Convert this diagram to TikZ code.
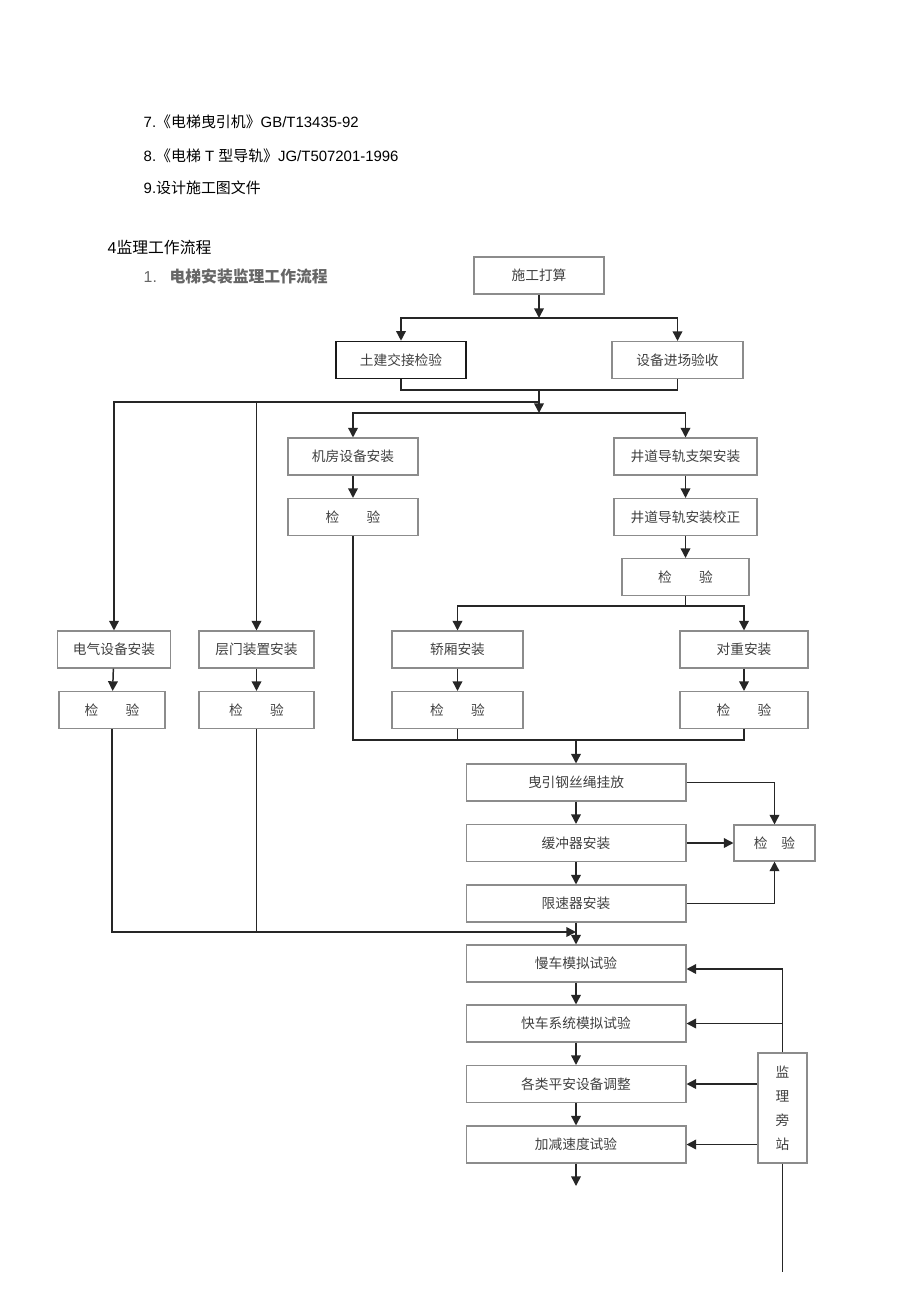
\documentclass[tikz,border=0pt]{standalone}
\usepackage{fontspec}
\setmainfont{Liberation Sans}
\newfontfamily\cjk{Noto Sans CJK SC}
\usetikzlibrary{arrows.meta}

\begin{document}
\begin{tikzpicture}[x=0.02cm, y=-0.02cm, line width=0.85pt,
  box/.style={draw=black!45, line width=0.6pt, minimum height=0.74cm, inner sep=0pt,
    font={\cjk\fontsize{7.8}{9}\selectfont}, text=black!75},
  link/.style={draw=black!85},
  arr/.style={link, -{Triangle[length=5.5pt,width=5.5pt]}}]
  \useasboundingbox (0,0) rectangle (920,1301);

  % heading lines
  \node[anchor=base west, inner sep=0pt, font=\fontsize{8.5}{10}\selectfont] (ref7) at (143,128) {7.{\cjk 《电梯曳引机》}GB/T13435-92};
  \node[anchor=base west, inner sep=0pt, font=\fontsize{8.5}{10}\selectfont] (ref8) at (143,161) {8.{\cjk 《电梯} T {\cjk 型导轨》}JG/T507201-1996};
  \node[anchor=base west, inner sep=0pt, font=\fontsize{8.5}{10}\selectfont] (ref9) at (143,193) {9.{\cjk 设计施工图文件}};
  \node[anchor=base west, inner sep=0pt, font=\fontsize{9}{11}\selectfont] (sec4) at (107,253) {4{\cjk 监理工作流程}};
  \node[anchor=base west, inner sep=0pt, font=\fontsize{9}{11}\selectfont, text=black!60] (sub1) at (143,282) {1.\hspace{0.8em}{\cjk\bfseries 电梯安装监理工作流程}};

  % boxes
  \node[box, minimum width=2.6cm] (plan) at (539,275.5) {施工打算};
  \node[box, minimum width=2.6cm, draw=black!90, line width=0.9pt] (civil) at (401,360) {土建交接检验};
  \node[box, minimum width=2.62cm] (equip) at (677.5,360) {设备进场验收};
  \node[box, minimum width=2.6cm] (room) at (353,456.5) {机房设备安装};
  \node[box, minimum width=2.6cm] (roomchk) at (353,517) {检\hspace{2em}验};
  \node[box, minimum width=2.86cm] (rail) at (685.5,456.5) {井道导轨支架安装};
  \node[box, minimum width=2.86cm] (railfix) at (685.5,517) {井道导轨安装校正};
  \node[box, minimum width=2.54cm] (railchk) at (685.5,577) {检\hspace{2em}验};
  \node[box, minimum width=2.62cm] (car) at (457.5,649.5) {轿厢安装};
  \node[box, minimum width=2.62cm] (carchk) at (457.5,710) {检\hspace{2em}验};
  \node[box, minimum width=2.56cm] (cwt) at (744,649.5) {对重安装};
  \node[box, minimum width=2.56cm] (cwtchk) at (744,710) {检\hspace{2em}验};
  \node[box, minimum width=2.26cm] (elec) at (114,649.5) {电气设备安装};
  \node[box, minimum width=2.12cm] (elecchk) at (112,710) {检\hspace{2em}验};
  \node[box, minimum width=2.3cm] (door) at (256.5,649.5) {层门装置安装};
  \node[box, minimum width=2.3cm] (doorchk) at (256.5,710) {检\hspace{2em}验};
  \node[box, minimum width=4.4cm] (rope) at (576,782.5) {曳引钢丝绳挂放};
  \node[box, minimum width=4.4cm] (buffer) at (576,843) {缓冲器安装};
  \node[box, minimum width=4.4cm] (governor) at (576,903.5) {限速器安装};
  \node[box, minimum width=1.62cm, minimum height=0.72cm] (ropechk) at (774.5,843) {检\hspace{1em}验};
  \node[box, minimum width=4.4cm] (slow) at (576,963.5) {慢车模拟试验};
  \node[box, minimum width=4.4cm] (fast) at (576,1023.5) {快车系统模拟试验};
  \node[box, minimum width=4.4cm] (safety) at (576,1084) {各类平安设备调整};
  \node[box, minimum width=4.4cm] (accel) at (576,1144.5) {加减速度试验};
  \node[box, minimum width=0.98cm, minimum height=2.2cm, align=center,
    font={\cjk\fontsize{7.8}{13.6}\selectfont}] (watch) at (782.5,1108) {监\\理\\旁\\站};

  % junctions
  \coordinate (j1) at (539,318);
  \coordinate (j2) at (539,390);
  \coordinate (j3) at (539,402);
  \coordinate (j4) at (539,413);
  \coordinate (j5) at (685.5,606);
  \coordinate (j6) at (576,740);
  \coordinate (j7) at (576,932);
  \coordinate (w1) at (782.5,969);
  \coordinate (w2) at (782.5,1272);
  \coordinate (fin) at (576,1186);

  \draw[arr] (plan) -- (j1);
  \draw[arr] (j1) -| (civil.north);
  \draw[arr] (j1) -| (equip.north);
  \draw[link] (civil.south) |- (j2) -| (equip.south);
  \draw[arr] (j2) -- (j4);
  \draw[arr] (j3) -| (elec.north);
  \draw[arr] (door.north |- j3) -- (door.north);
  \draw[arr] (j4) -| (room.north);
  \draw[arr] (j4) -| (rail.north);
  \draw[arr] (room) -- (roomchk);
  \draw[arr] (rail) -- (railfix);
  \draw[arr] (railfix) -- (railchk);
  \draw[link] (railchk.south) -- (j5);
  \draw[arr] (j5) -| (car.north);
  \draw[arr] (j5) -| (cwt.north);
  \draw[arr] (car) -- (carchk);
  \draw[arr] (cwt) -- (cwtchk);
  \draw[arr] (elec) -- (elecchk);
  \draw[arr] (door) -- (doorchk);
  \draw[link] (roomchk.south) |- (j6) -| (cwtchk.south);
  \draw[link] (carchk.south) -- (carchk.south |- j6);
  \draw[arr] (j6) -- (rope.north);
  \draw[arr] (rope) -- (buffer);
  \draw[arr] (buffer) -- (governor);
  \draw[arr] (rope.east) -| (ropechk.north);
  \draw[arr] (buffer.east) -- (ropechk.west);
  \draw[arr] (governor.east) -| (ropechk.south);
  \draw[arr] (elecchk.south) |- (j7);
  \draw[link] (doorchk.south) -- (doorchk.south |- j7);
  \draw[arr] (governor) -- (slow);
  \draw[arr] (slow) -- (fast);
  \draw[arr] (fast) -- (safety);
  \draw[arr] (safety) -- (accel);
  \draw[arr] (accel) -- (fin);
  \draw[link] (watch.north) -- (w1);
  \draw[link] (watch.south) -- (w2);
  \draw[arr] (w1) -- (w1 -| slow.east);
  \draw[arr] (watch.north |- fast.east) -- (fast.east);
  \draw[arr] (watch.west |- safety.east) -- (safety.east);
  \draw[arr] (watch.west |- accel.east) -- (accel.east);
\end{tikzpicture}
\end{document}
